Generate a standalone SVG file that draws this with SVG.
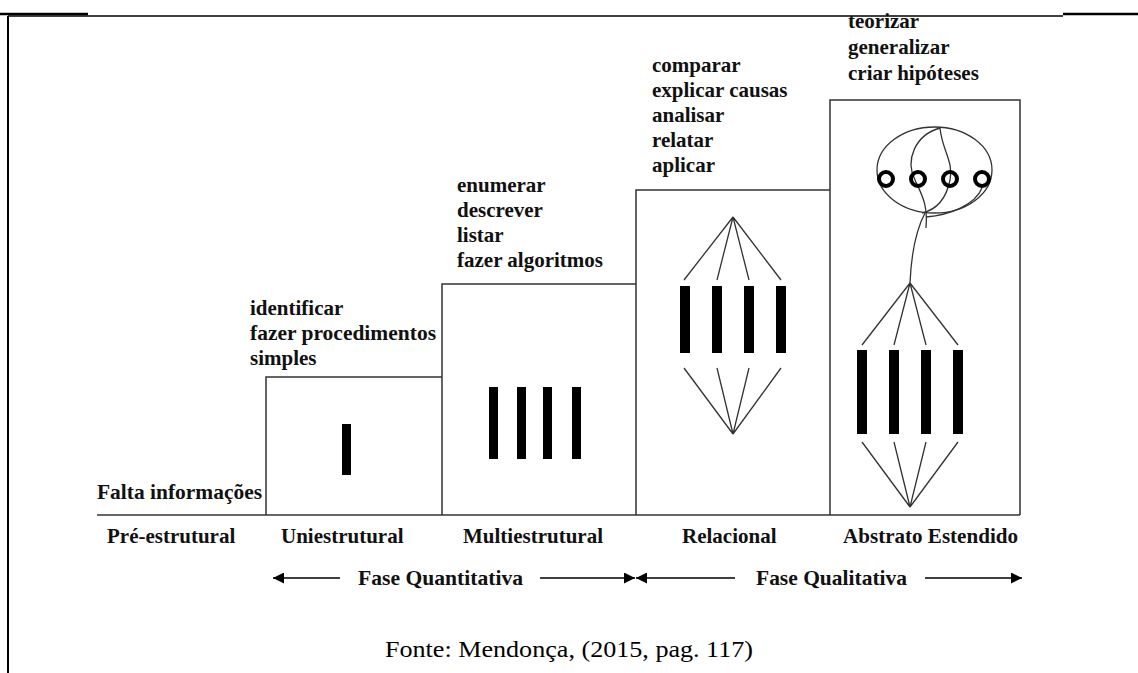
<svg xmlns="http://www.w3.org/2000/svg" width="1138" height="673" viewBox="0 0 1138 673">
<style>
.lbl{font-family:"Liberation Serif","Times New Roman",serif;font-weight:bold;font-size:21px;fill:#111}
.src{font-family:"Liberation Serif","Times New Roman",serif;font-size:24px;fill:#000}
.box{fill:none;stroke:#333;stroke-width:1.5}
.thin{fill:none;stroke:#333;stroke-width:1.3}
.bar{fill:#000}
.ring{fill:none;stroke:#000;stroke-width:4}
.arr{stroke:#000;stroke-width:1.5;fill:none}
</style>
<defs>
<marker id="ah" viewBox="0 0 10 10" refX="10" refY="5" markerWidth="13" markerHeight="11" markerUnits="userSpaceOnUse" orient="auto"><path d="M0,0 L10,5 L0,10 z" fill="#000"/></marker>
</defs>
<rect width="1138" height="673" fill="#fff"/>
<g id="frame">
<line x1="0" y1="14" x2="88" y2="14" stroke="#000" stroke-width="2.5"/>
<line x1="1063" y1="14" x2="1138" y2="14" stroke="#000" stroke-width="2.5"/>
<line x1="8" y1="16" x2="1063" y2="16" stroke="#000" stroke-width="1.5"/>
<line x1="8" y1="16" x2="8" y2="673" stroke="#000" stroke-width="2"/>
</g>
<g id="baseline"><line x1="97" y1="515" x2="1020" y2="515" class="box"/></g>
<g id="pre-estrutural">
<text class="lbl" x="97" y="499" textLength="165" lengthAdjust="spacingAndGlyphs">Falta informações</text>
<text class="lbl" x="107" y="543">Pré-estrutural</text>
</g>
<g id="uniestrutural">
<path class="box" d="M266,515 V377 H442"/>
<rect class="bar" x="342" y="424" width="9" height="51"/>
<text class="lbl" x="250" y="315">identificar</text>
<text class="lbl" x="250" y="340" textLength="186" lengthAdjust="spacingAndGlyphs">fazer procedimentos</text>
<text class="lbl" x="250" y="365">simples</text>
<text class="lbl" x="281" y="543">Uniestrutural</text>
</g>
<g id="multiestrutural">
<path class="box" d="M442,515 V284 H636"/>
<rect class="bar" x="489" y="387" width="9" height="72"/>
<rect class="bar" x="517" y="387" width="9" height="72"/>
<rect class="bar" x="543" y="387" width="9" height="72"/>
<rect class="bar" x="572" y="387" width="9" height="72"/>
<text class="lbl" x="457" y="192">enumerar</text>
<text class="lbl" x="457" y="217">descrever</text>
<text class="lbl" x="457" y="242">listar</text>
<text class="lbl" x="457" y="267">fazer algoritmos</text>
<text class="lbl" x="463" y="543">Multiestrutural</text>
</g>
<g id="relacional">
<path class="box" d="M636,515 V190 H830"/>
<rect class="bar" x="680" y="286" width="10" height="67"/>
<rect class="bar" x="712" y="286" width="10" height="67"/>
<rect class="bar" x="744" y="286" width="10" height="67"/>
<rect class="bar" x="776" y="286" width="10" height="67"/>
<path class="thin" d="M684,280 L733,217 L717,280 M733,217 L749,280 M733,217 L781,280"/>
<path class="thin" d="M684,368 L733,434 L717,368 M733,434 L749,368 M733,434 L781,368"/>
<text class="lbl" x="652" y="72">comparar</text>
<text class="lbl" x="652" y="97">explicar causas</text>
<text class="lbl" x="652" y="122">analisar</text>
<text class="lbl" x="652" y="147">relatar</text>
<text class="lbl" x="652" y="172">aplicar</text>
<text class="lbl" x="682" y="543">Relacional</text>
</g>
<g id="abstrato">
<path class="box" d="M830,515 V100 H1020 V515"/>
<ellipse class="thin" cx="934.5" cy="170" rx="57.5" ry="43"/>
<path class="thin" d="M940,128 C915,135 905,160 915,180 C922,195 928,205 926,228"/>
<path class="thin" d="M940,128 C942,150 954,162 950,180 C946,200 935,210 922,213"/>
<path class="thin" d="M982,188 C975,205 950,215 926,217"/>
<path class="thin" d="M925,213 C915,232 911,260 910,283"/>
<circle class="ring" cx="886" cy="179" r="7"/>
<circle class="ring" cx="918" cy="179" r="7"/>
<circle class="ring" cx="950" cy="179" r="7"/>
<circle class="ring" cx="982" cy="179" r="7"/>
<rect class="bar" x="857" y="350" width="10" height="84"/>
<rect class="bar" x="889" y="350" width="10" height="84"/>
<rect class="bar" x="921" y="350" width="10" height="84"/>
<rect class="bar" x="953" y="350" width="10" height="84"/>
<path class="thin" d="M862,345 L910,283 L894,345 M910,283 L926,345 M910,283 L958,345"/>
<path class="thin" d="M862,442 L910,507 L894,442 M910,507 L926,442 M910,507 L958,442"/>
<text class="lbl" x="848" y="28">teorizar</text>
<text class="lbl" x="848" y="54">generalizar</text>
<text class="lbl" x="848" y="80">criar hipóteses</text>
<text class="lbl" x="843" y="543" textLength="175" lengthAdjust="spacingAndGlyphs">Abstrato Estendido</text>
</g>
<g id="connectors">
<line class="arr" x1="340" y1="578" x2="273" y2="578" marker-end="url(#ah)"/>
<line class="arr" x1="540" y1="578" x2="635" y2="578" marker-end="url(#ah)"/>
<line class="arr" x1="735" y1="578" x2="636" y2="578" marker-end="url(#ah)"/>
<line class="arr" x1="925" y1="578" x2="1022" y2="578" marker-end="url(#ah)"/>
</g>
<g id="phases">
<text class="lbl" x="358" y="585" textLength="165" lengthAdjust="spacingAndGlyphs">Fase Quantitativa</text>
<text class="lbl" x="756" y="585" textLength="151" lengthAdjust="spacingAndGlyphs">Fase Qualitativa</text>
</g>
<g id="fonte"><text class="src" x="385" y="657" textLength="368" lengthAdjust="spacingAndGlyphs">Fonte: Mendonça, (2015, pag. 117)</text></g>
</svg>
